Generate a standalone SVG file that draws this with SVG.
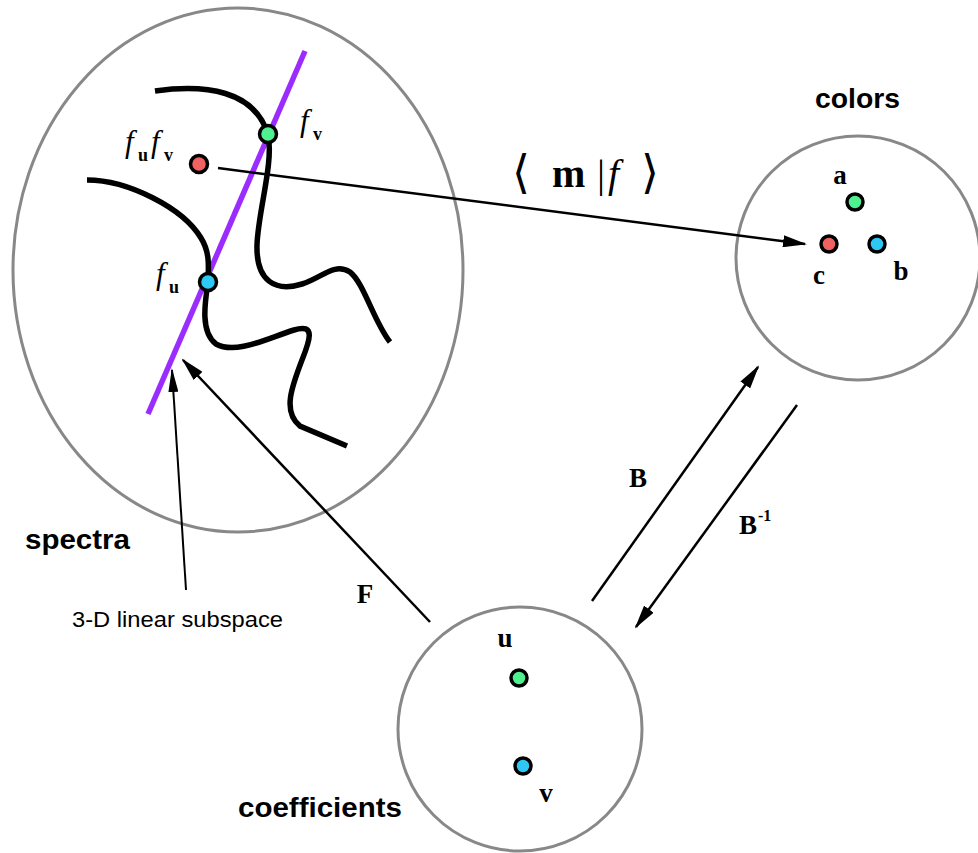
<svg xmlns="http://www.w3.org/2000/svg" width="978" height="853" viewBox="0 0 978 853">
<style>
.ring{fill:none;stroke:#888;stroke-width:3}
.curve{fill:none;stroke:#000;stroke-width:5.5;stroke-linecap:butt}
.dot{stroke:#000;stroke-width:3.5}
.g{fill:#4ef08f}.r{fill:#f06262}.b{fill:#2ec8f5}
.conn{stroke:#000;stroke-width:2.5;fill:none}
.thin{stroke:#000;stroke-width:2;fill:none}
.sans{font-family:"Liberation Sans",Arial,sans-serif;fill:#000}
.serif{font-family:"Liberation Serif","Times New Roman",serif;fill:#000}
.bold{font-weight:bold}
.it{font-style:italic}
.lbl{font-size:27px}
.sub{font-size:18px}
.fi{font-size:31px}
</style>
<defs>
<marker id="ah" markerUnits="userSpaceOnUse" markerWidth="24" markerHeight="12" refX="22" refY="6" orient="auto">
<path d="M0,0 L24,6 L0,12 Z" fill="#000"/>
</marker>
<marker id="ahs" markerUnits="userSpaceOnUse" markerWidth="24" markerHeight="10" refX="22" refY="5" orient="auto">
<path d="M0,0 L24,5 L0,10 Z" fill="#000"/>
</marker>
</defs>
<rect width="978" height="853" fill="#fff"/>

<g id="spectra">
<ellipse class="ring" cx="238" cy="270" rx="225" ry="262"/>
<line x1="305" y1="51" x2="148" y2="414" stroke="#9b2cff" stroke-width="5.5"/>
<path class="curve" d="M155,91 C205,84 255,90 268,135 C274,162 258,212 257,245 C256,282 276,292 302,284 C322,278 334,262 350,272 C364,283 374,322 390,342"/>
<path class="curve" d="M87,180 C128,180 183,208 201,238 C211,254 208,270 208,282 C205,302 200,332 216,344 C236,355 268,338 294,330 C316,323 310,340 302,360 C292,386 282,412 300,426 L347,446"/>
<circle class="dot g" cx="268" cy="134" r="8.5"/>
<circle class="dot b" cx="208" cy="282" r="8.5"/>
<circle class="dot r" cx="199" cy="164" r="8.5"/>
<text class="serif it fi" x="125" y="152">f</text>
<text class="serif bold sub" x="138" y="161">u</text>
<text class="serif it fi" x="151" y="152">f</text>
<text class="serif bold sub" x="164" y="161">v</text>
<text class="serif it fi" x="300" y="131">f</text>
<text class="serif bold sub" x="313" y="140">v</text>
<text class="serif it fi" x="156" y="284">f</text>
<text class="serif bold sub" x="169" y="293">u</text>
<text class="sans bold" x="25" y="549" font-size="27" textLength="105" lengthAdjust="spacingAndGlyphs">spectra</text>
<text class="sans" x="72" y="627" font-size="22" textLength="211" lengthAdjust="spacingAndGlyphs">3-D linear subspace</text>
</g>

<g id="colors">
<circle class="ring" cx="858" cy="258" r="122"/>
<circle class="dot g" cx="855" cy="202" r="8"/>
<circle class="dot r" cx="829" cy="244" r="8"/>
<circle class="dot b" cx="877" cy="244" r="8"/>
<text class="serif bold lbl" x="840" y="184" text-anchor="middle">a</text>
<text class="serif bold lbl" x="819" y="284" text-anchor="middle">c</text>
<text class="serif bold lbl" x="901" y="280" text-anchor="middle">b</text>
<text class="sans bold" x="815" y="108" font-size="27" textLength="85" lengthAdjust="spacingAndGlyphs">colors</text>
</g>

<g id="coefficients">
<circle class="ring" cx="520" cy="729" r="122"/>
<circle class="dot g" cx="519" cy="678" r="8"/>
<circle class="dot b" cx="523" cy="766" r="8"/>
<text class="serif bold lbl" x="505" y="647" text-anchor="middle">u</text>
<text class="serif bold lbl" x="546" y="802" text-anchor="middle">v</text>
<text class="sans bold" x="238" y="817" font-size="27" textLength="164" lengthAdjust="spacingAndGlyphs">coefficients</text>
</g>

<g id="connectors">
<line class="conn" x1="218" y1="168" x2="805" y2="244" marker-end="url(#ah)"/>
<line class="thin" x1="186" y1="590" x2="172" y2="370" marker-end="url(#ahs)"/>
<line class="conn" x1="430" y1="622" x2="183" y2="360" marker-end="url(#ah)"/>
<line class="conn" x1="592" y1="601" x2="758" y2="367" marker-end="url(#ah)"/>
<line class="conn" x1="797" y1="405" x2="636" y2="627" marker-end="url(#ah)"/>
<text x="512" y="188" font-size="46" font-family="DejaVu Serif,serif">⟨</text>
<text class="serif bold" x="552" y="187" font-size="40">m</text>
<text class="serif" x="597" y="187" font-size="40">|</text>
<text class="serif it" x="608" y="187" font-size="40">f</text>
<text x="641" y="188" font-size="46" font-family="DejaVu Serif,serif">⟩</text>
<text class="serif bold lbl" x="365" y="603" text-anchor="middle">F</text>
<text class="serif bold lbl" x="638" y="487" text-anchor="middle">B</text>
<text class="serif bold lbl" x="748" y="534" text-anchor="middle">B</text>
<text class="serif bold" x="758" y="521" font-size="16">-1</text>
</g>
</svg>
